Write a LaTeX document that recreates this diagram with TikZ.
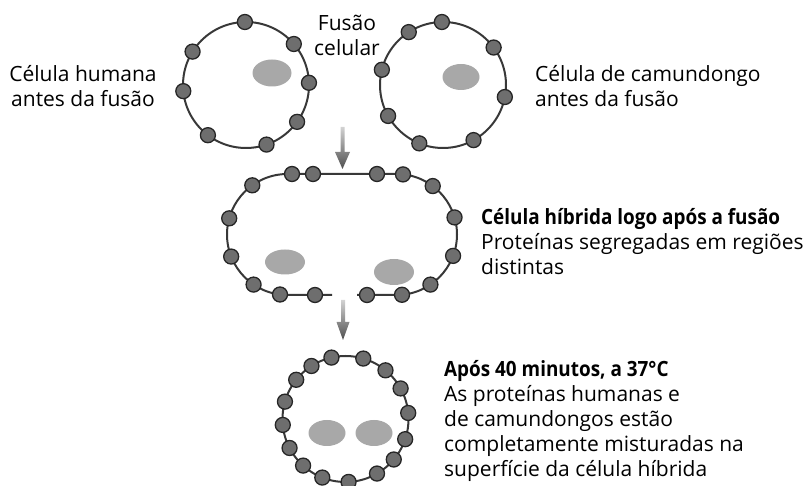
\documentclass[tikz,border=0pt]{standalone}
\usepackage{fontspec}
\setmainfont{Open Sans}[BoldFeatures={FakeStretch=0.9}]
\definecolor{membr}{HTML}{383838}
\definecolor{protedge}{HTML}{262626}
\definecolor{protfill}{HTML}{6E6E6E}
\definecolor{nucfill}{HTML}{A8A8A8}
\definecolor{arrtop}{HTML}{D2D2D2}
\definecolor{arrbot}{HTML}{4E4E4E}
\begin{document}
\begin{tikzpicture}[x=1pt,y=1pt,
  membrane/.style={draw=membr, line width=2pt},
  protein/.style={circle, draw=protedge, fill=protfill, line width=1.3pt,
                  minimum size=15pt, inner sep=0pt},
  nucleus/.style={fill=nucfill, draw=none},
  lbl/.style={inner sep=0pt, font=\fontsize{21}{25}\selectfont},
  lblb/.style={inner sep=0pt, font=\fontsize{21}{25}\selectfont\bfseries},
  fuse/.style={top color=arrtop, bottom color=arrbot, draw=none}]
\useasboundingbox (0,0) rectangle (807,-486);

% ---- human cell before fusion
\coordinate (hum) at (246,-85);
\draw[membrane] (hum) circle[radius=63pt];
\fill[nucleus] (272,-73) ellipse[x radius=19.5pt, y radius=13.5pt];
\foreach \a [count=\i] in {91,40.6,148,2,185.6,-35.8,232.8,289}
  \node[protein] (hp\i) at ([shift={(\a:63pt)}]hum) {};

% ---- mouse cell before fusion
\coordinate (mus) at (443,-85);
\draw[membrane] (mus) circle[radius=63pt];
\fill[nucleus] (461,-77) ellipse[x radius=18.5pt, y radius=13pt];
\foreach \a [count=\i] in {91,122.9,36.5,166,-11,209.4,247.9,299}
  \node[protein] (mp\i) at ([shift={(\a:63pt)}]mus) {};

% ---- fusion arrow
\coordinate (a1s) at (342.5,-127);
\coordinate (a1e) at (342.5,-169);
\shade[fuse] ([xshift=-2pt]a1s) -- ([xshift=-2pt,yshift=17pt]a1e)
  -- ([xshift=-7.5pt,yshift=17pt]a1e) -- (a1e)
  -- ([xshift=7.5pt,yshift=17pt]a1e) -- ([xshift=2pt,yshift=17pt]a1e)
  -- ([xshift=2pt]a1s) -- cycle;

% ---- hybrid cell just after fusion (membrane open at the bottom)
\coordinate (hl) at (287.5,-234.5);
\coordinate (hr) at (396.5,-234.5);
\draw[membrane] (332,-295) -- (287.5,-295)
  arc[start angle=-90, end angle=-270, radius=60.5pt]
  -- (396.5,-174)
  arc[start angle=90, end angle=-90, radius=60.5pt]
  -- (357,-295);
\fill[nucleus] (285,-262) ellipse[x radius=20pt, y radius=12.5pt];
\fill[nucleus] (394,-272) ellipse[x radius=20pt, y radius=13pt];
\foreach \a [count=\i] in {125.6,164.5,201.4,235.9}
  \node[protein] (hyl\i) at ([shift={(\a:60.5pt)}]hl) {};
\foreach \a [count=\i] in {53.2,16.4,-20.7,-55.9}
  \node[protein] (hyr\i) at ([shift={(\a:60.5pt)}]hr) {};
\foreach \x/\y [count=\i] in {292/-174,313/-174,377/-174,403/-174.4,
                              280/-294.5,315/-295,367/-295,402/-294.8}
  \node[protein] (hym\i) at (\x,\y) {};

% ---- second arrow
\coordinate (a2s) at (343,-300);
\coordinate (a2e) at (343,-340);
\shade[fuse] ([xshift=-2pt]a2s) -- ([xshift=-2pt,yshift=18pt]a2e)
  -- ([xshift=-6.5pt,yshift=18pt]a2e) -- (a2e)
  -- ([xshift=6.5pt,yshift=18pt]a2e) -- ([xshift=2pt,yshift=18pt]a2e)
  -- ([xshift=2pt]a2s) -- cycle;

% ---- hybrid cell after 40 minutes: proteins mixed
\coordinate (mix) at (345.5,-419);
\draw[membrane] (mix) circle[radius=63pt];
\fill[nucleus] (327,-433) ellipse[x radius=18.5pt, y radius=13pt];
\fill[nucleus] (374,-433) ellipse[x radius=18.5pt, y radius=13pt];
\foreach \a [count=\i] in {102.9,73.6,122.7,50.6,141.5,29,164,5.5,
                           185.4,-18.7,207.4,-40,227.7,-60,248.4,272.8}
  \node[protein] (xp\i) at ([shift={(\a:63pt)}]mix) {};

% ---- labels
\node[lbl, anchor=base] (humA) at (83,-81.5) {Célula humana};
\node[lbl, anchor=base] (humB) at (83,-106.5) {antes da fusão};
\node[lbl, anchor=base] (fusA) at (347,-31) {Fusão};
\node[lbl, anchor=base] (fusB) at (347,-56) {celular};
\node[lbl, anchor=base west] (musA) at (535,-81.5) {Célula de camundongo};
\node[lbl, anchor=base west] (musB) at (535,-106.5) {antes da fusão};
\node[lblb, anchor=base west] (hybA) at (481,-225) {Célula híbrida logo após a fusão};
\node[lbl, anchor=base west] (hybB) at (481,-250) {Proteínas segregadas em regiões};
\node[lbl, anchor=base west] (hybC) at (481,-275) {distintas};
\node[lblb, anchor=base west] (mixA) at (444,-376.5) {Após 40 minutos, a 37°C};
\node[lbl, anchor=base west] (mixB) at (444,-401.5) {As proteínas humanas e};
\node[lbl, anchor=base west] (mixC) at (444,-426.5) {de camundongos estão};
\node[lbl, anchor=base west] (mixD) at (444,-451.5) {completamente misturadas na};
\node[lbl, anchor=base west] (mixE) at (444,-476.5) {superfície da célula híbrida};
\end{tikzpicture}
\end{document}
